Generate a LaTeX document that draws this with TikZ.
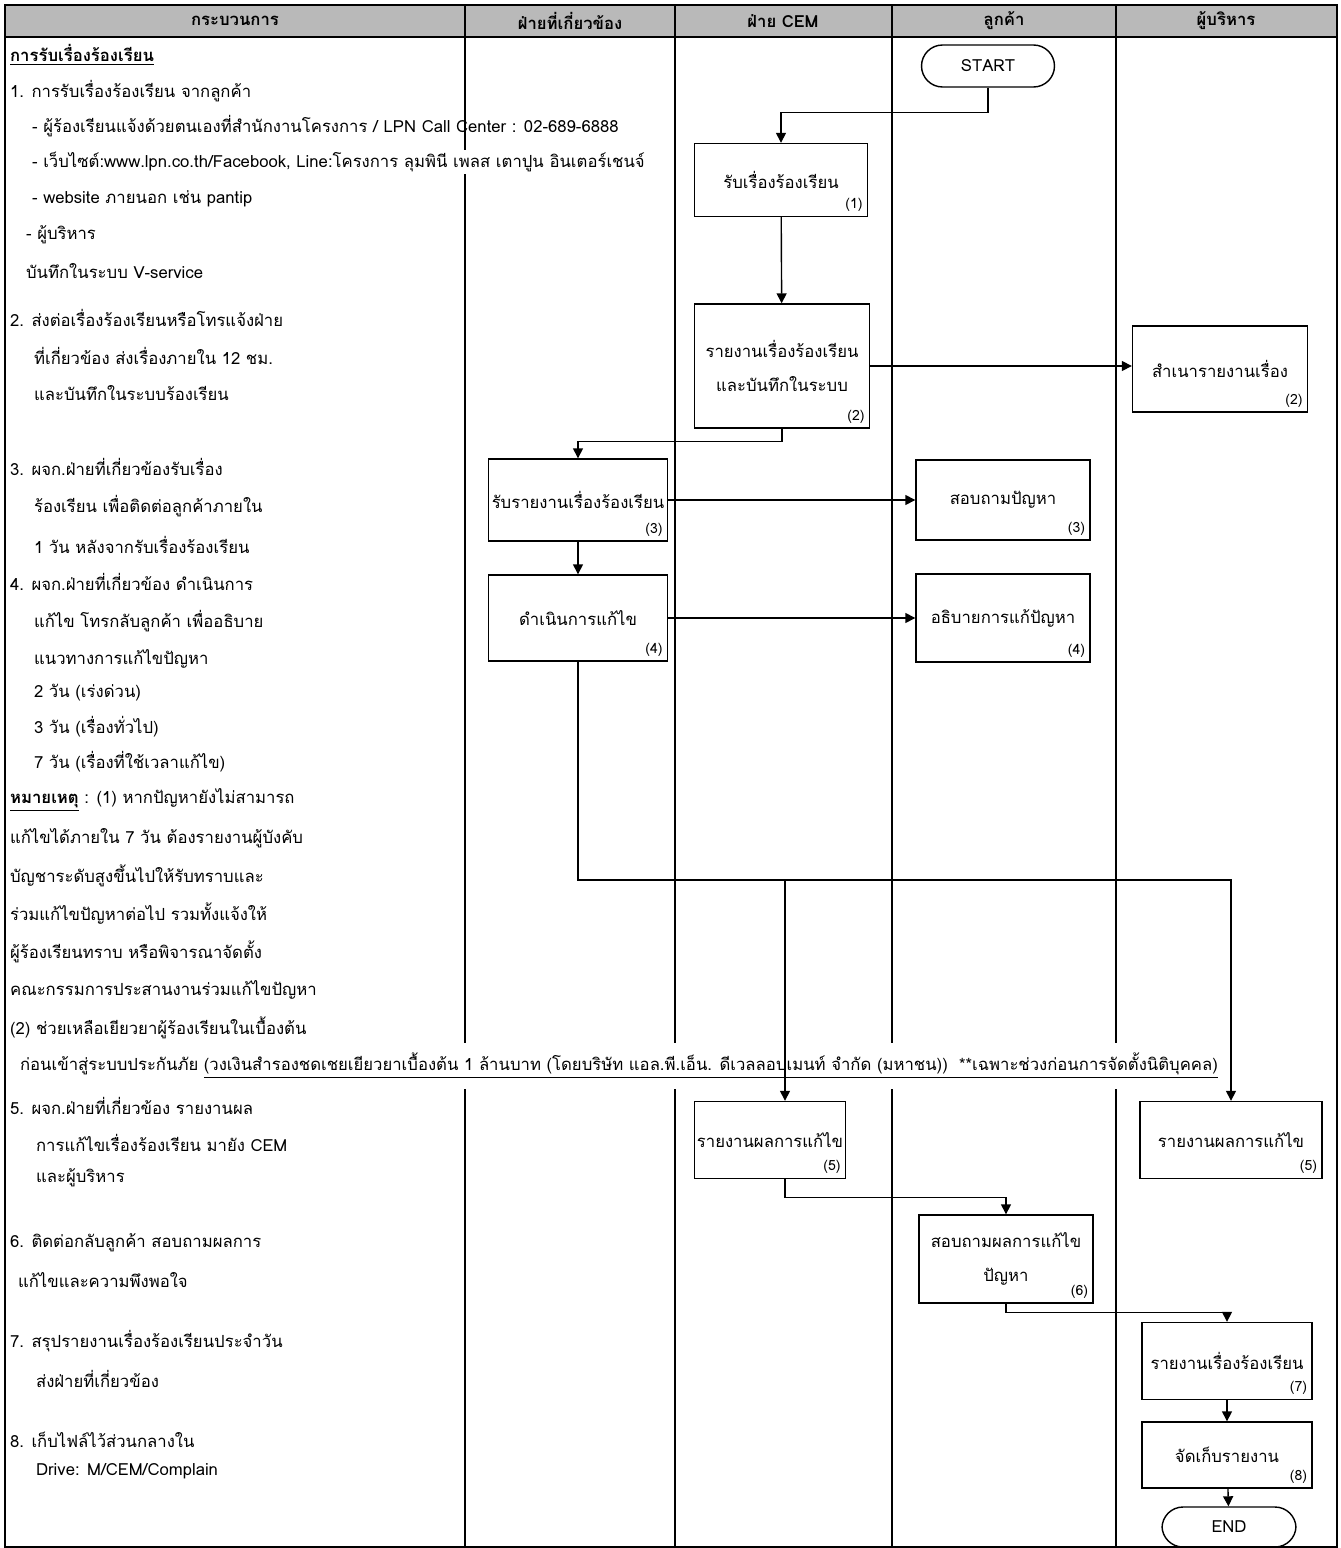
\documentclass[tikz,border=0pt]{standalone}
\usepackage{fontspec}
\setmainfont[Script=Thai]{Loma}
\usetikzlibrary{arrows.meta, positioning}
\definecolor{headgray}{RGB}{185,185,185}
\newcommand{\flowfont}{\fontsize{9.5}{11}\selectfont}

\begin{document}
\begin{tikzpicture}[x=0.02cm, y=-0.02cm,
  lane/.style={line width=1.1pt},
  head/.style={font=\bfseries\flowfont},
  txt/.style={anchor=west, inner sep=1pt, font=\flowfont},
  box/.style={draw, line width=0.8pt, fill=white, align=center, font=\flowfont},
  term/.style={draw, line width=0.8pt, rounded corners=0.42cm, minimum width=2.66cm,
    minimum height=0.84cm, font=\flowfont},
  flow/.style={-{Triangle[length=2mm, width=2mm]}, line width=0.8pt},
  every label/.append style={font=\footnotesize, inner sep=3pt}
]
  \useasboundingbox (0,0) rectangle (1340,1548);

  % swim lanes
  \fill[headgray] (5,5) rectangle (1337,37);
  \draw[lane] (5,5) rectangle (1337,1547);
  \draw[lane] (5,37) -- (1337,37);
  \foreach \x in {465, 675, 892, 1116}
    \draw[lane] (\x,5) -- (\x,1547);

  \node[head] (h1) at (235,21) {กระบวนการ};
  \node[head] (h2) at (570,21) {ฝ่ายที่เกี่ยวข้อง};
  \node[head] (h3) at (783,21) {ฝ่าย CEM};
  \node[head] (h4) at (1004,21) {ลูกค้า};
  \node[head] (h5) at (1226,21) {ผู้บริหาร};

  % process text
  \node[txt] (t0) at (8,55) {\bfseries\underline{การรับเรื่องร้องเรียน}};
  \node[txt] (t1) at (8,91) {1. การรับเรื่องร้องเรียน จากลูกค้า};
  \node[txt] (t1a) at (30,126) {- ผู้ร้องเรียนแจ้งด้วยตนเองที่สำนักงานโครงการ / LPN Call Center : 02-689-6888};
  \node[txt, fill=white] (t1b) at (30,162) {- เว็บไซต์:www.lpn.co.th/Facebook, Line:โครงการ ลุมพินี เพลส เตาปูน อินเตอร์เชนจ์};
  \node[txt] (t1c) at (30,199) {- website ภายนอก เช่น pantip};
  \node[txt] (t1d) at (24,235) {- ผู้บริหาร};
  \node[txt] (t1e) at (24,271) {บันทึกในระบบ V-service};
  \node[txt] (t2) at (8,318) {2. ส่งต่อเรื่องร้องเรียนหรือโทรแจ้งฝ่าย};
  \node[txt] (t2a) at (32,356) {ที่เกี่ยวข้อง ส่งเรื่องภายใน 12 ชม.};
  \node[txt] (t2b) at (32,393) {และบันทึกในระบบร้องเรียน};
  \node[txt] (t3) at (8,467) {3. ผจก.ฝ่ายที่เกี่ยวข้องรับเรื่อง};
  \node[txt] (t3a) at (32,506) {ร้องเรียน เพื่อติดต่อลูกค้าภายใน};
  \node[txt] (t3b) at (32,545) {1 วัน หลังจากรับเรื่องร้องเรียน};
  \node[txt] (t4) at (8,582) {4. ผจก.ฝ่ายที่เกี่ยวข้อง ดำเนินการ};
  \node[txt] (t4a) at (32,621) {แก้ไข โทรกลับลูกค้า เพื่ออธิบาย};
  \node[txt] (t4b) at (32,659) {แนวทางการแก้ไขปัญหา};
  \node[txt] (t4c) at (32,693) {2 วัน (เร่งด่วน)};
  \node[txt] (t4d) at (32,727) {3 วัน (เรื่องทั่วไป)};
  \node[txt] (t4e) at (32,762) {7 วัน (เรื่องที่ใช้เวลาแก้ไข)};
  \node[txt] (n1) at (8,800) {\bfseries\underline{หมายเหตุ} \mdseries : (1) หากปัญหายังไม่สามารถ};
  \node[txt] (n2) at (8,838) {แก้ไขได้ภายใน 7 วัน ต้องรายงานผู้บังคับ};
  \node[txt] (n3) at (8,876) {บัญชาระดับสูงขึ้นไปให้รับทราบและ};
  \node[txt] (n4) at (8,914) {ร่วมแก้ไขปัญหาต่อไป รวมทั้งแจ้งให้};
  \node[txt] (n5) at (8,952) {ผู้ร้องเรียนทราบ หรือพิจารณาจัดตั้ง};
  \node[txt] (n6) at (8,990) {คณะกรรมการประสานงานร่วมแก้ไขปัญหา};
  \node[txt] (n7) at (8,1028) {(2) ช่วยเหลือเยียวยาผู้ร้องเรียนในเบื้องต้น};
  \node[txt, fill=white, inner ysep=6pt] (n8) at (18,1066) {ก่อนเข้าสู่ระบบประกันภัย \underline{(วงเงินสำรองชดเชยเยียวยาเบื้องต้น 1 ล้านบาท (โดยบริษัท แอล.พี.เอ็น. ดีเวลลอปเมนท์ จำกัด (มหาชน))\ \ **เฉพาะช่วงก่อนการจัดตั้งนิติบุคคล)}};
  \node[txt] (t5) at (8,1106) {5. ผจก.ฝ่ายที่เกี่ยวข้อง รายงานผล};
  \node[txt] (t5a) at (34,1143) {การแก้ไขเรื่องร้องเรียน มายัง CEM};
  \node[txt] (t5b) at (34,1178) {และผู้บริหาร};
  \node[txt] (t6) at (8,1243) {6. ติดต่อกลับลูกค้า สอบถามผลการ};
  \node[txt] (t6a) at (16,1280) {แก้ไขและความพึงพอใจ};
  \node[txt] (t7) at (8,1341) {7. สรุปรายงานเรื่องร้องเรียนประจำวัน};
  \node[txt] (t7a) at (34,1379) {ส่งฝ่ายที่เกี่ยวข้อง};
  \node[txt] (t8) at (8,1440) {8. เก็บไฟล์ไว้ส่วนกลางใน};
  \node[txt] (t8a) at (34,1471) {Drive: M/CEM/Complain};

  % flow chart
  \node[term] (start) at (988,66) {START};
  \node[box, minimum width=3.46cm, minimum height=1.46cm,
    label={[anchor=south east]south east:(1)}] (recv) at (781,180) {รับเรื่องร้องเรียน};
  \node[box, minimum width=3.5cm, minimum height=2.48cm,
    label={[anchor=south east]south east:(2)}] (report) at (782,366) {รายงานเรื่องร้องเรียน\\[8pt]และบันทึกในระบบ};
  \node[box, minimum width=3.5cm, minimum height=1.72cm,
    label={[anchor=south east]south east:(2)}] (copy) at (1220,369) {สำเนารายงานเรื่อง};
  \node[box, minimum width=3.58cm, minimum height=1.64cm, inner xsep=1pt,
    label={[anchor=south east]south east:(3)}] (getrep) at (578,500) {รับรายงานเรื่องร้องเรียน};
  \node[box, minimum width=3.48cm, minimum height=1.6cm,
    label={[anchor=south east]south east:(3)}] (ask) at (1003,500) {สอบถามปัญหา};
  \node[box, minimum width=3.58cm, minimum height=1.72cm,
    label={[anchor=south east]south east:(4)}] (fix) at (578,618) {ดำเนินการแก้ไข};
  \node[box, minimum width=3.48cm, minimum height=1.76cm,
    label={[anchor=south east]south east:(4)}] (explain) at (1003,618) {อธิบายการแก้ปัญหา};
  \node[box, minimum width=3.02cm, minimum height=1.54cm, inner xsep=1pt,
    label={[anchor=south east]south east:(5)}] (cemres) at (770,1140) {รายงานผลการแก้ไข};
  \node[box, minimum width=3.64cm, minimum height=1.54cm,
    label={[anchor=south east]south east:(5)}] (mgrres) at (1231,1140) {รายงานผลการแก้ไข};
  \node[box, minimum width=3.48cm, minimum height=1.76cm,
    label={[anchor=south east]south east:(6)}] (askres) at (1006,1259) {สอบถามผลการแก้ไข\\[8pt]ปัญหา};
  \node[box, minimum width=3.4cm, minimum height=1.54cm,
    label={[anchor=south east]south east:(7)}] (summary) at (1227,1361) {รายงานเรื่องร้องเรียน};
  \node[box, minimum width=3.4cm, minimum height=1.32cm,
    label={[anchor=south east]south east:(8)}] (store) at (1227,1455) {จัดเก็บรายงาน};
  \node[term, minimum height=0.8cm, minimum width=2.68cm] (end) at (1229,1527) {END};

  \coordinate (j1) at (785,880);

  \draw[flow] (start.south) -- ++(0,25) -| (recv.north);
  \draw[flow] (recv) -- (report);
  \draw[flow] (report.east) -- (report.east -| copy.west);
  \draw[flow] (report.south) -- ++(0,13) -| (getrep.north);
  \draw[flow] (getrep.east) -- (getrep.east -| ask.west);
  \draw[flow] (getrep) -- (fix);
  \draw[flow] (fix.east) -- (fix.east -| explain.west);
  \draw[flow] (fix.south) |- (j1 -| mgrres.north) -- (mgrres.north);
  \draw[flow] (j1) -- (j1 |- cemres.north);
  \draw[flow] (j1 |- cemres.south) -- ++(0,18) -| (askres.north);
  \draw[flow] (askres.south) -- ++(0,9) -| (summary.north);
  \draw[flow] (summary) -- (store);
  \draw[flow] (store) -- (end);
\end{tikzpicture}
\end{document}
